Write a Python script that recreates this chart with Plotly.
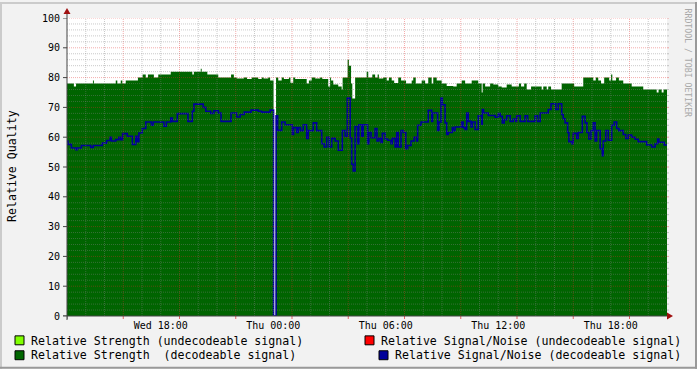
import plotly.graph_objects as go

# ---------------- data (time in minutes since Wed 13:00) ----------------
strength_t = [0, 22, 29, 83, 86, 156, 161, 172, 177, 188, 227, 242, 252, 259, 278, 292, 332, 401, 406, 428,
              431, 449, 484, 525, 534, 543, 566, 576, 591, 612, 623, 629, 644, 650, 661, 669, 676, 687, 694, 710,
              715, 724, 730, 767, 774, 783, 794, 810, 817, 836, 842, 845, 852, 868, 879, 882, 898, 902, 909, 913,
              922, 959, 964, 977, 986, 994, 998, 1012, 1023, 1030, 1039, 1047, 1060, 1069, 1085, 1103, 1108, 1116,
              1135, 1146, 1156, 1167, 1172, 1183, 1199, 1215, 1236, 1247, 1263, 1274, 1295, 1316, 1327, 1330, 1338,
              1354, 1364, 1380, 1391, 1407, 1423, 1446, 1453, 1463, 1471, 1485, 1519, 1524, 1535, 1540, 1549, 1583,
              1623, 1652, 1684, 1692, 1700, 1709, 1719, 1735, 1741, 1745, 1757, 1766, 1780, 1807, 1844, 1887, 1893,
              1903, 1909, 1920]
strength_v = [78, 77, 78, 79, 78, 79, 78, 79, 78, 79, 80, 81, 80, 81, 80, 81, 82, 81, 82, 83,
              82, 81, 80, 81, 80, 79.7, 80, 79.5, 80, 79.5, 80, 79.7, 80, 79, 0, 80, 79, 80, 79.5, 80,
              78.3, 80, 79.5, 78, 79, 80, 79.7, 80, 79.5, 77, 80, 79, 77.7, 77, 76, 80, 86, 84, 78, 73,
              80, 82, 80, 81, 80, 81, 79.7, 80, 79, 80, 79, 78.2, 80, 79, 78, 79, 80, 78,
              79, 78, 80, 78, 80, 79, 78, 77.2, 77, 78, 79, 78, 79, 78, 75, 78, 77,
              78, 77.7, 77, 76.7, 77.7, 77, 78, 77, 78, 76, 77, 76, 77, 76, 77, 76, 78,
              77, 80, 79, 80, 79, 78, 80, 79, 81, 79, 80, 79, 78, 77, 76, 75, 76,
              75, 76, 76]

snr_t = [0, 3, 14, 28, 33, 46, 76, 84, 113, 127, 138, 142, 156, 166, 172, 178, 193, 209, 220, 225,
         230, 241, 252, 270, 276, 310, 318, 332, 337, 353, 387, 401, 406, 436, 444, 460, 470, 484, 493, 525,
         543, 554, 567, 589, 612, 623, 650, 661, 669, 674, 687, 698, 721, 725, 735, 740, 747, 756, 767, 772,
         788, 799, 815, 823, 831, 839, 847, 858, 868, 881, 890, 897, 906, 911, 916, 922, 930, 934, 943, 948,
         962, 966, 973, 986, 992, 998, 1005, 1009, 1018, 1026, 1037, 1041, 1050, 1055, 1060, 1069, 1076, 1084,
         1090, 1101, 1111, 1119, 1122, 1133, 1156, 1167, 1170, 1186, 1190, 1197, 1201, 1210, 1215, 1220, 1233,
         1236, 1242, 1263, 1268, 1274, 1279, 1284, 1293, 1297, 1306, 1316, 1327, 1329, 1333, 1348, 1370, 1380,
         1386, 1393, 1399, 1407, 1418, 1428, 1436, 1439, 1450, 1466, 1474, 1498, 1506, 1514, 1540, 1549, 1564,
         1572, 1583, 1588, 1594, 1602, 1606, 1615, 1620, 1631, 1636, 1649, 1658, 1664, 1670, 1677, 1684, 1690,
         1695, 1706, 1713, 1716, 1724, 1732, 1743, 1751, 1759, 1766, 1780, 1788, 1796, 1807, 1818, 1828, 1855,
         1871, 1882, 1890, 1894, 1911, 1920]
snr_v = [58.7, 57.6, 56.4, 55.8, 56.4, 57.2, 56.6, 57.2, 58, 58.9, 60, 58.7, 59.2, 60, 59.2, 61.2, 60.3, 57.6, 60.3, 58.5,
         61.4, 62.9, 65.1, 64, 65.1, 63.7, 65.1, 66.4, 65.3, 67.9, 65.3, 68.7, 71.1, 70, 68.7, 68, 68.9, 68.1, 65.3, 68.1,
         66.8, 67.6, 68.4, 69.1, 68.7, 68.4, 69.1, 0, 67.2, 62.3, 65.1, 64.2, 60.9, 63.2, 61.6, 63.2, 62.2, 64.2, 59.6, 62.2,
         64.8, 62.2, 57.8, 56.7, 60, 56.7, 59.6, 58.7, 55.6, 62.2, 60.3, 73.1, 59.8, 50.9, 48.7, 63.6, 57.8, 64.2, 60.3, 64.2,
         57.8, 61.6, 59.8, 62.9, 58.7, 59.6, 58.2, 61.3, 59.4, 59, 57.8, 59.6, 56.7, 61.6, 56.7, 62.2, 61.6, 56.1,
         57.2, 58.7, 60, 58.7, 64, 65.1, 69, 65.3, 68.1, 62.3, 65.1, 73.1, 70.9, 64.8, 60.9, 61.6, 63.2,
         62.2, 63.4, 65.1, 63.2, 62.6, 68.1, 65.3, 63.4, 65.1, 62.6, 67.2, 64.4, 69.3, 68.1, 67.3, 66.7, 67.9,
         67, 64.8, 65.9, 67.2, 65.3, 66.1, 65.3, 67.2, 65.3, 67.2, 65.3, 67.2, 65.3, 68.1, 69.3, 71.2, 69.3,
         71.2, 67.6, 66.2, 64.8, 61.6, 58.5, 57.8, 61.3, 59.6, 61.6, 67, 64.8, 61.6, 59.4, 62.2, 64.8, 58.7,
         62.2, 56.1, 53.8, 58.7, 62.2, 59, 64, 65.1, 62.9, 62.2, 60.9, 59.6, 60.7, 60, 59.3, 58.5, 57.4,
         56.7, 57.8, 59.4, 58.3, 57.4, 57.4]

tick_vals = [300, 660, 1020, 1380, 1740]
tick_text = ["Wed 18:00", "Thu 00:00", "Thu 06:00", "Thu 12:00", "Thu 18:00"]
y_ticks = [0, 10, 20, 30, 40, 50, 60, 70, 80, 90, 100]

legend_items = [
    ("Relative Strength (undecodeable signal)", "#80FF00"),
    ("Relative Strength\u00a0 (decodeable signal)", "#006600"),
    ("Relative Signal/Noise (undecodeable signal)", "#FF0000"),
    ("Relative Signal/Noise (decodeable signal)", "#000099"),
]

# ---------------- layout geometry ----------------
W, H = 697, 369
L, R, T, B = 67, 30, 16, 53
PW, PH = W - L - R, H - T - B
FONT = "DejaVu Sans Mono"


def fx(px):
    return (px - L) / PW


def fy(py):
    return (H - B - py) / PH


GREEN = "#006400"
BLUE = "#000099"

fig = go.Figure()
fig.add_trace(go.Scatter(x=strength_t, y=strength_v, mode="lines",
                         line=dict(width=0, shape="hv", color=GREEN),
                         fill="tozeroy", fillcolor=GREEN, hoverinfo="skip", showlegend=False))
fig.add_trace(go.Scatter(x=snr_t, y=snr_v, mode="lines",
                         line=dict(width=1.6, shape="hv", color=BLUE),
                         hoverinfo="skip", showlegend=False))

shapes = []
MINOR = "rgba(128,128,128,0.42)"
MAJOR = "rgba(230,40,40,0.38)"
DOT = "1px,1px"
# vertical grid: every hour minor, every 3 hours major
for m in range(60, 1920, 60):
    col = MAJOR if m % 180 == 0 else MINOR
    shapes.append(dict(type="line", xref="x", yref="paper", x0=m, x1=m, y0=0, y1=1,
                       line=dict(color=col, width=1, dash=DOT), layer="above"))
# horizontal grid: every 2 minor, every 10 major
for v in range(2, 101, 2):
    col = MAJOR if v % 10 == 0 else MINOR
    shapes.append(dict(type="line", xref="paper", yref="y", x0=0, x1=1, y0=v, y1=v,
                       line=dict(color=col, width=1, dash=DOT), layer="above"))
    shapes.append(dict(type="line", xref="paper", yref="y", x0=1, x1=fx(L + PW + 2), y0=v, y1=v,
                       line=dict(color=col, width=1), layer="above"))
# x ticks (3-hour, red where unlabeled)
for m in range(0, 1921, 180):
    col = "#444444" if (m - 300) % 360 == 0 or m == 0 else "rgba(220,60,60,0.8)"
    shapes.append(dict(type="line", xref="x", yref="paper", x0=m, x1=m, y0=0, y1=fy(H - B + 3),
                       line=dict(color=col, width=1), layer="above"))
# y ticks
for v in y_ticks:
    shapes.append(dict(type="line", xref="paper", yref="y", x0=fx(L - 4), x1=0, y0=v, y1=v,
                       line=dict(color="#444444", width=1), layer="above"))
# axis lines + arrows
shapes.append(dict(type="line", xref="paper", yref="paper", x0=fx(L - 4), x1=fx(L + PW + 3), y0=0, y1=0,
                   line=dict(color="#444444", width=1), layer="above"))
shapes.append(dict(type="line", xref="paper", yref="paper", x0=0, x1=0, y0=fy(H - B + 4), y1=fy(T - 5),
                   line=dict(color="#444444", width=1), layer="above"))


def path(pts):
    return "M " + " L ".join(f"{fx(a)},{fy(b)}" for a, b in pts) + " Z"


shapes.append(dict(type="path", xref="paper", yref="paper",
                   path=path([(L + PW, H - B - 3.5), (L + PW + 6, H - B), (L + PW, H - B + 3.5)]),
                   fillcolor="#A01010", line=dict(width=0), layer="above"))
shapes.append(dict(type="path", xref="paper", yref="paper",
                   path=path([(L - 3.5, T - 4), (L, T - 10), (L + 3.5, T - 4)]),
                   fillcolor="#A01010", line=dict(width=0), layer="above"))

# outer bevel frame
shapes.append(dict(type="line", xref="paper", yref="paper", x0=fx(0), x1=fx(W), y0=fy(1), y1=fy(1),
                   line=dict(color="#CBCBCB", width=2), layer="above"))
shapes.append(dict(type="line", xref="paper", yref="paper", x0=fx(1), x1=fx(1), y0=fy(0), y1=fy(H),
                   line=dict(color="#CBCBCB", width=2), layer="above"))
shapes.append(dict(type="line", xref="paper", yref="paper", x0=fx(0), x1=fx(W), y0=fy(H - 1), y1=fy(H - 1),
                   line=dict(color="#999999", width=2), layer="above"))
shapes.append(dict(type="line", xref="paper", yref="paper", x0=fx(W - 1), x1=fx(W - 1), y0=fy(0), y1=fy(H),
                   line=dict(color="#999999", width=2), layer="above"))

# legend
leg_pos = [(15, 336, 30, 341), (15, 351, 30, 355.5), (365, 336, 380, 341), (379, 351, 394, 355.5)]
annotations = []
for (label, col), (sx, sy, tx, ty) in zip(legend_items, leg_pos):
    shapes.append(dict(type="rect", xref="paper", yref="paper", x0=fx(sx), x1=fx(sx + 9),
                       y0=fy(sy), y1=fy(sy + 9), fillcolor=col, line=dict(color="#000000", width=1),
                       layer="above"))
    annotations.append(dict(text=label, xref="paper", yref="paper", x=fx(tx), y=fy(ty),
                            xanchor="left", yanchor="middle", showarrow=False,
                            font=dict(family=FONT, size=11.6, color="#000000"), borderpad=0))

annotations.append(dict(text="Relative Quality", xref="paper", yref="paper", x=fx(12), y=fy(165),
                        xanchor="center", yanchor="middle", textangle=-90, showarrow=False,
                        font=dict(family=FONT, size=11.6, color="#000000")))
annotations.append(dict(text="RRDTOOL / TOBI OETIKER", xref="paper", yref="paper", x=fx(688), y=fy(5),
                        xanchor="center", yanchor="top", textangle=90, showarrow=False,
                        font=dict(family=FONT, size=8.2, color="#A8A8A8"), borderpad=0))

fig.update_layout(
    width=W, height=H,
    margin=dict(l=L, r=R, t=T, b=B, pad=0),
    paper_bgcolor="#F2F2F2", plot_bgcolor="#FFFFFF",
    shapes=shapes, annotations=annotations, showlegend=False,
    xaxis=dict(range=[0, 1920], showgrid=False, zeroline=False, showline=False,
               tickvals=tick_vals, ticktext=tick_text, ticks="outside", ticklen=0.5,
               tickcolor="rgba(0,0,0,0)", ticklabelstandoff=-1,
               tickfont=dict(family=FONT, size=10, color="#000000"), fixedrange=True),
    yaxis=dict(range=[0, 100], showgrid=False, zeroline=False, showline=False,
               tickvals=y_ticks, ticks="outside", ticklen=4, tickcolor="rgba(0,0,0,0)",
               tickfont=dict(family=FONT, size=10, color="#000000"), fixedrange=True),
)

fig.write_html("out.html")
